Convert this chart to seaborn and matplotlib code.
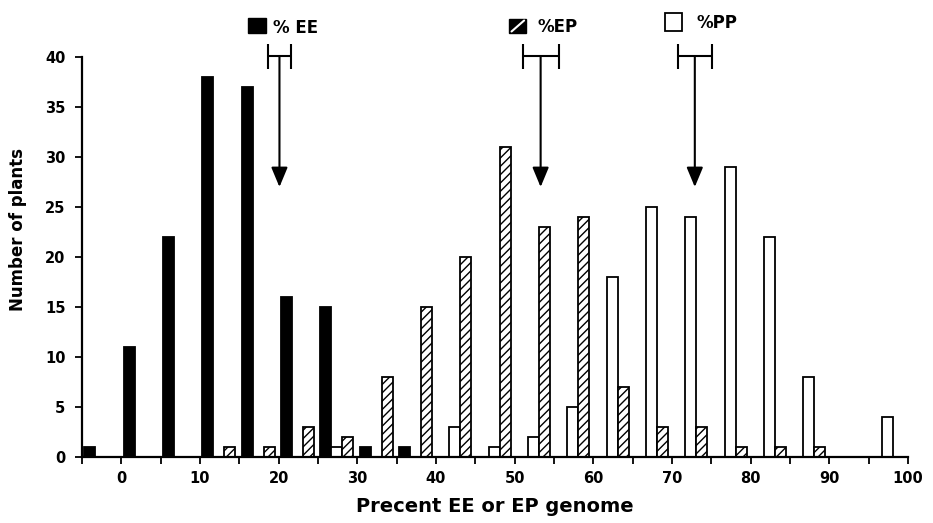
import numpy as np
import pandas as pd
import seaborn as sns
import matplotlib.pyplot as plt
from matplotlib.patches import Rectangle
from matplotlib.colors import to_hex

# left edge of each 5 % class, and number of plants per class
bin_start = [-5, 0, 5, 10, 15, 20, 25, 30, 35, 40, 45, 50, 55, 60, 65, 70, 75, 80, 85, 90, 95]
ee = [1, 11, 22, 38, 37, 16, 15, 1, 1, 0, 0, 0, 0, 0, 0, 0, 0, 0, 0, 0, 0]
pp = [0, 0, 0, 0, 0, 0, 1, 0, 0, 3, 1, 2, 5, 18, 25, 24, 29, 22, 8, 0, 4]
ep = [0, 0, 0, 1, 1, 3, 2, 8, 15, 20, 31, 23, 24, 7, 3, 3, 1, 1, 1, 0, 0]

# mean (+- error) of each genome class, shown by the arrows
means = [20.1, 53.3, 72.9]
errs = [1.5, 2.3, 2.2]

sns.set_style('ticks')
plt.rcParams['font.family'] = ['DejaVu Sans']
plt.rcParams['font.weight'] = 'bold'
plt.rcParams['hatch.linewidth'] = 1.0
for k in ['text.color', 'axes.labelcolor', 'xtick.color', 'ytick.color', 'axes.edgecolor']:
    plt.rcParams[k] = 'black'

n = len(bin_start)
df = pd.DataFrame({'bin': bin_start * 3,
                   'series': ['EE'] * n + ['PP'] * n + ['EP'] * n,
                   'count': ee + pp + ep})
df['pos'] = df['bin'] + 2.4

fig = plt.figure(figsize=(9.33, 5.23), dpi=100)
ax = fig.add_axes([0.0879, 0.1262, 0.8853, 0.8604])

pal = {'EE': '#000000', 'PP': '#ffffff', 'EP': '#fefefe'}
sns.barplot(data=df, x='pos', y='count', hue='series', hue_order=['EE', 'PP', 'EP'],
            palette=pal, native_scale=True, dodge=True, width=0.84, saturation=1,
            errorbar=None, edgecolor='black', linewidth=1.3, legend=False, ax=ax)
for p in ax.patches:
    if to_hex(p.get_facecolor()) == '#fefefe':
        p.set_hatch('////')
        p.set_facecolor('white')

ax.set_xlim(-5, 100)
ax.set_ylim(0, 45)
ax.set_xticks(range(0, 101, 10))
ax.set_xticks(np.arange(-5, 100, 10), minor=True)
ax.set_yticks(range(0, 41, 5))
sns.despine(ax=ax)
ax.spines['left'].set_bounds(0, 40)
for s in ['left', 'bottom']:
    ax.spines[s].set_linewidth(1.6)
ax.tick_params(axis='both', which='both', direction='out', length=5, width=1.3, labelsize=10.5)
ax.tick_params(axis='x', pad=5)
ax.tick_params(axis='y', pad=7)

ax.set_xlabel('Precent EE or EP genome', fontsize=14, fontweight='bold', labelpad=8)
ax.set_ylabel('Number of plants', fontsize=12, fontweight='bold')
ax.yaxis.set_label_coords(-0.0666, 0.506)

# key boxes above each distribution
ax.add_patch(Rectangle((16.1, 42.4), 2.3, 1.5, facecolor='black', edgecolor='black', clip_on=False))
ax.add_patch(Rectangle((49.3, 42.4), 2.2, 1.4, facecolor='black', edgecolor='black', clip_on=False))
ax.plot([49.6, 51.2], [42.55, 43.65], color='white', lw=1.5, clip_on=False)
ax.add_patch(Rectangle((69.1, 42.6), 2.2, 1.8, facecolor='white', edgecolor='black', lw=1.3, clip_on=False))
ax.text(19.3, 42.9, '% EE', va='center', ha='left', fontsize=12, fontweight='bold')
ax.text(52.9, 43.0, '%EP', va='center', ha='left', fontsize=12, fontweight='bold')
ax.text(73.1, 43.4, '%PP', va='center', ha='left', fontsize=12, fontweight='bold')

for m, e in zip(means, errs):
    ax.errorbar(m, 40.1, xerr=e, fmt='none', ecolor='black', elinewidth=1.5, capsize=9, capthick=1.5)
    ax.annotate('', xy=(m, 27), xytext=(m, 40.1),
                arrowprops=dict(arrowstyle='-|>,head_length=1.2,head_width=0.5', color='black',
                                lw=1.5, shrinkA=0, shrinkB=0))

fig.savefig('out.png', dpi=100)
